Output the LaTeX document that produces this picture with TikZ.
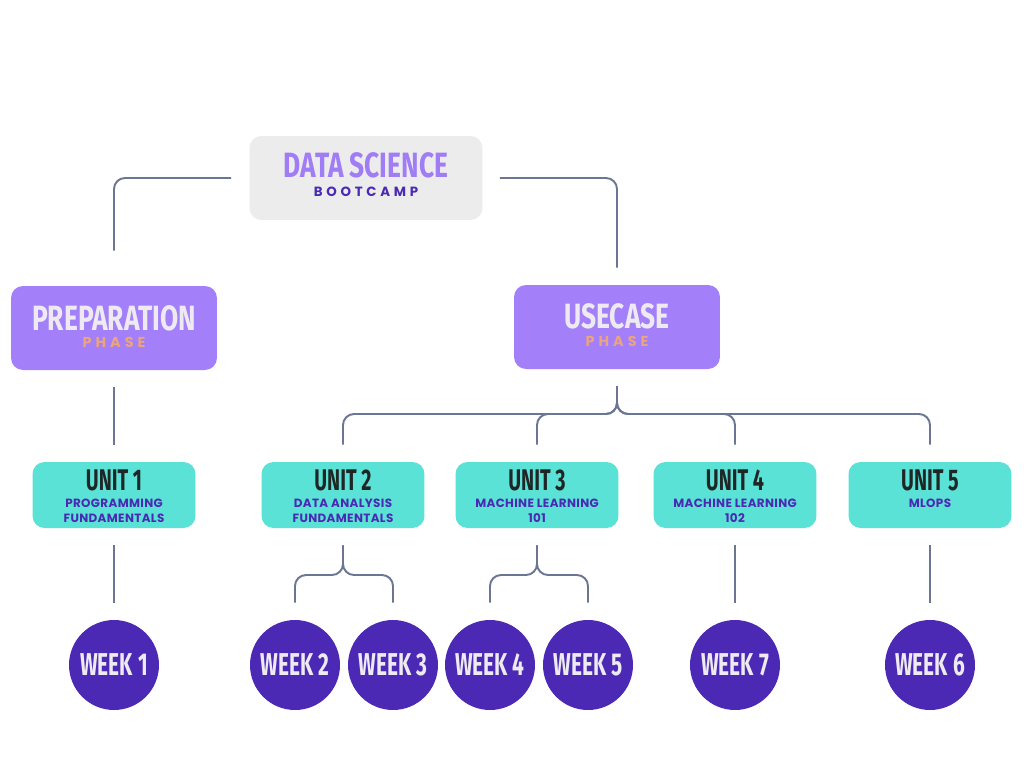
\documentclass[tikz,border=0pt]{standalone}
\usepackage{fontspec}
\usepackage{tikz}

\newfontfamily\condfont[FakeStretch=0.66]{Fira Sans}
\newfontfamily\headfont[FakeStretch=0.75]{Fira Sans}
\newfontfamily\widefont[LetterSpace=28]{Poppins}
\newfontfamily\subfont[LetterSpace=3]{Poppins}

\definecolor{greybox}{HTML}{ECECEC}
\definecolor{lilac}{HTML}{A47FFA}
\definecolor{lilactext}{HTML}{A07CF5}
\definecolor{indigo}{HTML}{4A2AB3}
\definecolor{weekblue}{HTML}{4B29B4}
\definecolor{peach}{HTML}{EBA47C}
\definecolor{aqua}{HTML}{5BE2D7}
\definecolor{darkink}{HTML}{1E2626}
\definecolor{pale}{HTML}{EEEAF2}
\definecolor{linkgrey}{HTML}{6B7693}

\tikzset{
  topbox/.style={rounded corners=0.24cm,fill=greybox,minimum width=4.66cm,minimum height=1.68cm},
  phasebox/.style={rounded corners=0.24cm,fill=lilac,minimum width=4.12cm,minimum height=1.68cm},
  unitbox/.style={rounded corners=0.24cm,fill=aqua,minimum width=3.26cm,minimum height=1.32cm},
  weekdot/.style={circle,fill=weekblue,minimum size=1.8cm,inner sep=0pt,text=pale,
    font=\condfont\bfseries\fontsize{18}{20}\selectfont},
  bigtxt/.style={inner sep=0pt,font=\headfont\bfseries\fontsize{20}{22}\selectfont},
  unittxt/.style={inner sep=0pt,text=darkink,font=\condfont\bfseries\fontsize{17}{19}\selectfont},
  spacedtxt/.style={inner sep=0pt,font=\widefont\bfseries\fontsize{7.6}{9}\selectfont},
  phasetxt/.style={inner sep=0pt,text=peach,font=\widefont\bfseries\fontsize{8.2}{9}\selectfont},
  subtxt/.style={inner sep=0pt,text=indigo,font=\subfont\bfseries\fontsize{6.8}{8}\selectfont},
  link/.style={draw=linkgrey,line width=1.1pt,rounded corners=0.22cm}
}

\begin{document}
\begin{tikzpicture}[x=0.02cm,y=-0.02cm]
  \fill[white] (0,0) rectangle (1024,768);
  \useasboundingbox (0,0) rectangle (1024,768);

  % top
  \node[topbox] at (366,178) (camp) {};
  \node[bigtxt,text=lilactext] at (366,165) (campname) {DATA SCIENCE};
  \node[spacedtxt,text=indigo] at (366,192) (campsub) {BOOTCAMP};

  % phases
  \node[phasebox] at (114,328) (prep) {};
  \node[bigtxt,text=pale] at (114,318) (prepname) {PREPARATION};
  \node[phasetxt] at (114,342) (prepsub) {PHASE};

  \node[phasebox] at (617,327) (uc) {};
  \node[bigtxt,text=pale] at (617,316) (ucname) {USECASE};
  \node[phasetxt] at (617,341) (ucsub) {PHASE};

  % units
  \node[unitbox] at (114,495) (u1) {};
  \node[unittxt] at (114,480) (u1name) {UNIT 1};
  \node[subtxt] at (114,503) (u1a) {PROGRAMMING};
  \node[subtxt] at (114,518) (u1b) {FUNDAMENTALS};

  \node[unitbox] at (343,495) (u2) {};
  \node[unittxt] at (343,480) (u2name) {UNIT 2};
  \node[subtxt] at (343,503) (u2a) {DATA ANALYSIS};
  \node[subtxt] at (343,518) (u2b) {FUNDAMENTALS};

  \node[unitbox] at (537,495) (u3) {};
  \node[unittxt] at (537,480) (u3name) {UNIT 3};
  \node[subtxt] at (537,503) (u3a) {MACHINE LEARNING};
  \node[subtxt] at (537,518) (u3b) {101};

  \node[unitbox] at (735,495) (u4) {};
  \node[unittxt] at (735,480) (u4name) {UNIT 4};
  \node[subtxt] at (735,503) (u4a) {MACHINE LEARNING};
  \node[subtxt] at (735,518) (u4b) {102};

  \node[unitbox] at (930,495) (u5) {};
  \node[unittxt] at (930,480) (u5name) {UNIT 5};
  \node[subtxt] at (930,503) (u5a) {MLOPS};

  % weeks
  \node[weekdot] at (114,665) (w1) {WEEK 1};
  \node[weekdot] at (295,665) (w2) {WEEK 2};
  \node[weekdot] at (393,665) (w3) {WEEK 3};
  \node[weekdot] at (490,665) (w4) {WEEK 4};
  \node[weekdot] at (588,665) (w5) {WEEK 5};
  \node[weekdot] at (735,665) (w7) {WEEK 7};
  \node[weekdot] at (930,665) (w6) {WEEK 6};

  % brace points
  \coordinate (ucfork) at (617,414);
  \coordinate (u2fork) at (343,575);
  \coordinate (u3fork) at (537,575);

  % links
  \draw[link] ([xshift=-0.36cm]camp.west) -| ([yshift=0.7cm]prep.north);
  \draw[link] ([xshift=0.34cm]camp.east) -| ([yshift=0.34cm]uc.north);

  \draw[link] ([yshift=-0.34cm]prep.south) -- ([yshift=0.34cm]u1.north);
  \draw[link] ([yshift=-0.34cm]uc.south) -- (ucfork) -| ([yshift=0.34cm]u2.north);
  \draw[link] ([yshift=-0.34cm]uc.south) -- (ucfork) -| ([yshift=0.34cm]u3.north);
  \draw[link] ([yshift=-0.34cm]uc.south) -- (ucfork) -| ([yshift=0.34cm]u4.north);
  \draw[link] ([yshift=-0.34cm]uc.south) -- (ucfork) -| ([yshift=0.34cm]u5.north);

  \draw[link] ([yshift=-0.34cm]u1.south) -- ([yshift=0.34cm]w1.north);
  \draw[link] ([yshift=-0.34cm]u2.south) -- (u2fork) -| ([yshift=0.34cm]w2.north);
  \draw[link] ([yshift=-0.34cm]u2.south) -- (u2fork) -| ([yshift=0.34cm]w3.north);
  \draw[link] ([yshift=-0.34cm]u3.south) -- (u3fork) -| ([yshift=0.34cm]w4.north);
  \draw[link] ([yshift=-0.34cm]u3.south) -- (u3fork) -| ([yshift=0.34cm]w5.north);
  \draw[link] ([yshift=-0.34cm]u4.south) -- ([yshift=0.34cm]w7.north);
  \draw[link] ([yshift=-0.34cm]u5.south) -- ([yshift=0.34cm]w6.north);
\end{tikzpicture}
\end{document}
